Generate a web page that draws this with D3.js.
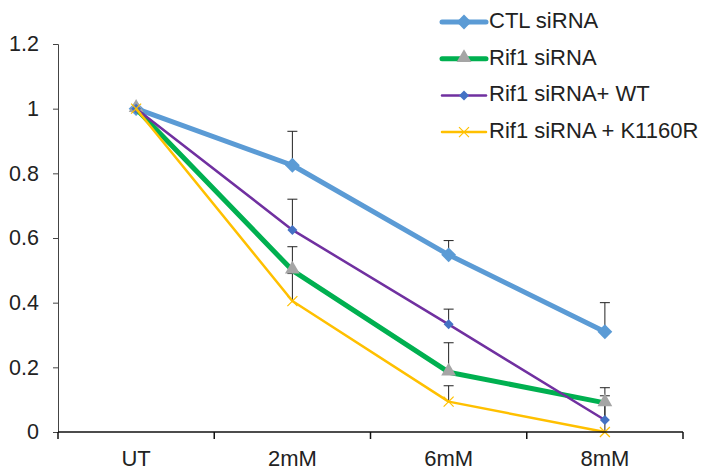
<!DOCTYPE html>
<html>
<script src='https://d3js.org/d3.v7.min.js'></script>
<style>
body {margin:0; background:#fff;}
text {font-family: "Liberation Sans", Arial, sans-serif; fill:#222;}
</style>
<body onload='init()'>
<svg></svg>
<script>
var categories = ["UT", "2mM", "6mM", "8mM"];
var yTicks = [0, 0.2, 0.4, 0.6, 0.8, 1, 1.2];
var seriesNames = ["CTL siRNA", "Rif1 siRNA", "Rif1 siRNA+ WT", "Rif1 siRNA + K1160R"];
var ctlValues = [1, 0.825, 0.548, 0.31];
var ctlErrTop = [1, 0.93, 0.592, 0.40];
var rif1Values = [1, 0.5, 0.185, 0.09];
var rif1ErrTop = [1, 0.573, 0.276, 0.137];
var wtValues = [1, 0.625, 0.333, 0.037];
var wtErrTop = [1, 0.72, 0.38, 0.09];
var k1160rValues = [1, 0.405, 0.094, 0];
var k1160rErrTop = [1, 0.49, 0.143, 0.112];

function init() {
  var svg = d3.select("svg").attr("width", 706).attr("height", 473);

  var x = d3.scaleBand().domain(categories).range([58, 683]);
  var y = d3.scaleLinear().domain([0, 1.2]).range([432, 44]);
  var cx = function(c) { return x(c) + x.bandwidth() / 2; };

  var series = [
    {name: seriesNames[0], values: ctlValues, err: ctlErrTop, color: "#5B9BD5", width: 5, marker: "diamond", mcolor: "#5B9BD5", msize: 110},
    {name: seriesNames[1], values: rif1Values, err: rif1ErrTop, color: "#00B050", width: 5, marker: "triangle", mcolor: "#A5A5A5", msize: 95},
    {name: seriesNames[2], values: wtValues, err: wtErrTop, color: "#7030A0", width: 2.5, marker: "diamond", mcolor: "#4472C4", msize: 50},
    {name: seriesNames[3], values: k1160rValues, err: k1160rErrTop, color: "#FFC000", width: 2.5, marker: "cross", mcolor: "#FFC000", msize: 0}
  ];

  // y axis
  var yAxis = svg.append("g").attr("transform", "translate(58,0)")
    .call(d3.axisLeft(y).tickValues(yTicks).tickSize(5).tickFormat(function(d) { return d; }));
  yAxis.select(".domain").attr("stroke", "#444").attr("stroke-width", 1);
  yAxis.selectAll(".tick line").attr("stroke", "#444");
  yAxis.selectAll("text").attr("x", -19).style("font-size", "21.5px").style("fill", "#222");

  // error bars (drawn under the lines)
  var eb = svg.append("g");
  series.forEach(function(s) {
    categories.forEach(function(c, i) {
      if (s.err[i] <= s.values[i]) return;
      eb.append("line").attr("x1", cx(c)).attr("x2", cx(c))
        .attr("y1", y(s.values[i])).attr("y2", y(s.err[i]))
        .attr("stroke", "#222").attr("stroke-width", 1);
      eb.append("line").attr("x1", cx(c) - 5).attr("x2", cx(c) + 5)
        .attr("y1", y(s.err[i])).attr("y2", y(s.err[i]))
        .attr("stroke", "#222").attr("stroke-width", 1);
    });
  });

  var line = d3.line().x(function(d, i) { return cx(categories[i]); }).y(function(d) { return y(d); });

  function drawMarker(g, s, px, py) {
    if (s.marker === "cross") {
      var r = 5;
      g.append("path").attr("d", "M" + (px - r) + "," + (py - r) + "L" + (px + r) + "," + (py + r) + "M" + (px - r) + "," + (py + r) + "L" + (px + r) + "," + (py - r))
        .attr("stroke", s.mcolor).attr("stroke-width", 1.2).attr("fill", "none");
    } else if (s.marker === "diamond") {
      g.append("path").attr("d", d3.symbol().type(d3.symbolSquare).size(s.msize)())
        .attr("transform", "translate(" + px + "," + py + ") rotate(45)")
        .attr("fill", s.mcolor);
    } else {
      g.append("path").attr("d", d3.symbol().type(d3.symbolTriangle).size(s.msize)())
        .attr("transform", "translate(" + px + "," + (py - 1) + ")")
        .attr("fill", s.mcolor);
    }
  }

  series.forEach(function(s) {
    var g = svg.append("g");
    g.append("path").datum(s.values).attr("d", line)
      .attr("fill", "none").attr("stroke", s.color).attr("stroke-width", s.width)
      .attr("stroke-linejoin", "round");
    s.values.forEach(function(v, i) { drawMarker(g, s, cx(categories[i]), y(v)); });
  });

  // x axis
  var xAxis = svg.append("g").attr("transform", "translate(0,432)")
    .call(d3.axisBottom(x).tickSize(0).tickFormat(function(d) { return d; }));
  xAxis.select(".domain").remove();
  xAxis.append("line").attr("x1", 58).attr("x2", 683).attr("stroke", "#111").attr("stroke-width", 1.5);
  categories.concat([null]).forEach(function(c, i) {
    var tx = 58 + i * x.bandwidth();
    xAxis.append("line").attr("x1", tx).attr("x2", tx).attr("y1", 0).attr("y2", 7)
      .attr("stroke", "#111").attr("stroke-width", 1.5);
  });
  xAxis.selectAll(".tick text").attr("y", 34).attr("dy", null)
    .style("font-size", "22px").style("fill", "#222");

  // legend
  var legend = svg.append("g");
  series.forEach(function(s, i) {
    var ly = 22 + i * 36.7;
    legend.append("line").attr("x1", 442).attr("x2", 486).attr("y1", ly).attr("y2", ly)
      .attr("stroke", s.color).attr("stroke-width", s.width).attr("stroke-linecap", "round");
    drawMarker(legend, s, 464, ly);
    legend.append("text").attr("x", 489).attr("y", ly + 5.8)
      .style("font-size", "22px").text(s.name);
  });
}
</script>
</body>
</html>
